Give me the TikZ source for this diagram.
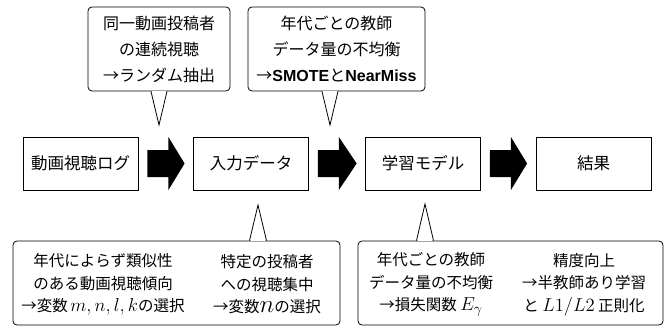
\documentclass[tikz,border=0pt]{standalone}
\usepackage{graphicx}
\usepackage[no-math]{fontspec}
\setmainfont{Noto Sans CJK JP}
\newfontfamily\latb{Liberation Sans}
\usetikzlibrary{calc}
\newcommand{\bigmath}[2]{\scalebox{#1}{$#2$}}
\tikzset{
  mainbox/.style={draw, line width=0.8pt, minimum width=115pt, minimum height=53pt, inner sep=0pt, font=\fontsize{16.5}{20}\selectfont},
  callout/.style={draw, line width=0.8pt, rounded corners=4pt, inner sep=0pt, align=center},
  ctext/.style={font=\fontsize{16}{26}\selectfont},
  btext/.style={align=center, inner sep=0pt, font=\fontsize{15.5}{22.5}\selectfont},
  blockarrow/.style={fill=black},
  spike/.style={draw, line width=0.8pt, line join=miter},
}
\begin{document}
\begin{tikzpicture}[x=1pt,y=-1pt]
\useasboundingbox (0,0) rectangle (672,329);
% main flow
\node[mainbox] (b1) at (80.5,163.5) {動画視聴ログ};
\node[mainbox] (b2) at (251,163.5) {入力データ};
\node[mainbox] (b3) at (423,163.5) {学習モデル};
\node[mainbox] (b4) at (593.5,163.5) {結果};
\foreach \p/\q in {b1/b2,b2/b3,b3/b4}{
  \fill[blockarrow] ($(\p.east)+(9,-13.5)$) -- ($(\p.east)+(30,-13.5)$) -- ($(\p.east)+(30,-26.5)$)
    -- ($(\q.west)+(-8.5,0)$) -- ($(\p.east)+(30,26.5)$) -- ($(\p.east)+(30,13.5)$)
    -- ($(\p.east)+(9,13.5)$) -- cycle;
}
% top callouts
\node[callout, ctext, minimum width=142pt, minimum height=84pt] (c1) at (159,49)
  {同一動画投稿者\\の連続視聴\\→ランダム抽出};
\node[callout, ctext, minimum width=177pt, minimum height=84pt] (c2) at (336.5,49)
  {年代ごとの教師\\データ量の不均衡\\→{\latb\bfseries SMOTE}と{\latb\bfseries NearMiss}};
% bottom callouts
\node[callout, minimum width=327pt, minimum height=84pt] (c3) at (176.5,283) {};
\node[callout, minimum width=305pt, minimum height=84pt] (c4) at (510.5,283) {};
\node[btext] (t3a) at (103,284.5) {年代によらず類似性\\のある動画視聴傾向\\→変数\,\bigmath{1.3}{m,n,l,k}の選択};
\node[btext] (t3b) at (267,284.5) {特定の投稿者\\への視聴集中\\→変数\bigmath{1.75}{n}の選択};
\node[btext] (t4a) at (431,284.5) {年代ごとの教師\\データ量の不均衡\\→損失関数 \bigmath{1.3}{E_\gamma}};
\node[btext] (t4b) at (584,284.5) {精度向上\\→半教師あり学習\\と \bigmath{1.3}{L1/L2} 正則化};
% pointers
\coordinate (p1) at (159,125);
\coordinate (p2) at (330,125);
\coordinate (p3) at (258,205);
\coordinate (p4) at (425,204);
\foreach \c/\p in {c1/p1,c2/p2}{
  \fill[white] ($(\p|-\c.south)+(-7.4,-0.7)$) rectangle ($(\p|-\c.south)+(7.4,0.7)$);
  \draw[spike] ($(\p|-\c.south)+(-8,0)$) -- (\p) -- ($(\p|-\c.south)+(8,0)$);
}
\foreach \c/\p in {c3/p3,c4/p4}{
  \fill[white] ($(\p|-\c.north)+(-7.4,-0.7)$) rectangle ($(\p|-\c.north)+(7.4,0.7)$);
  \draw[spike] ($(\p|-\c.north)+(-8.5,0)$) -- (\p) -- ($(\p|-\c.north)+(8.5,0)$);
}
\end{tikzpicture}
\end{document}
